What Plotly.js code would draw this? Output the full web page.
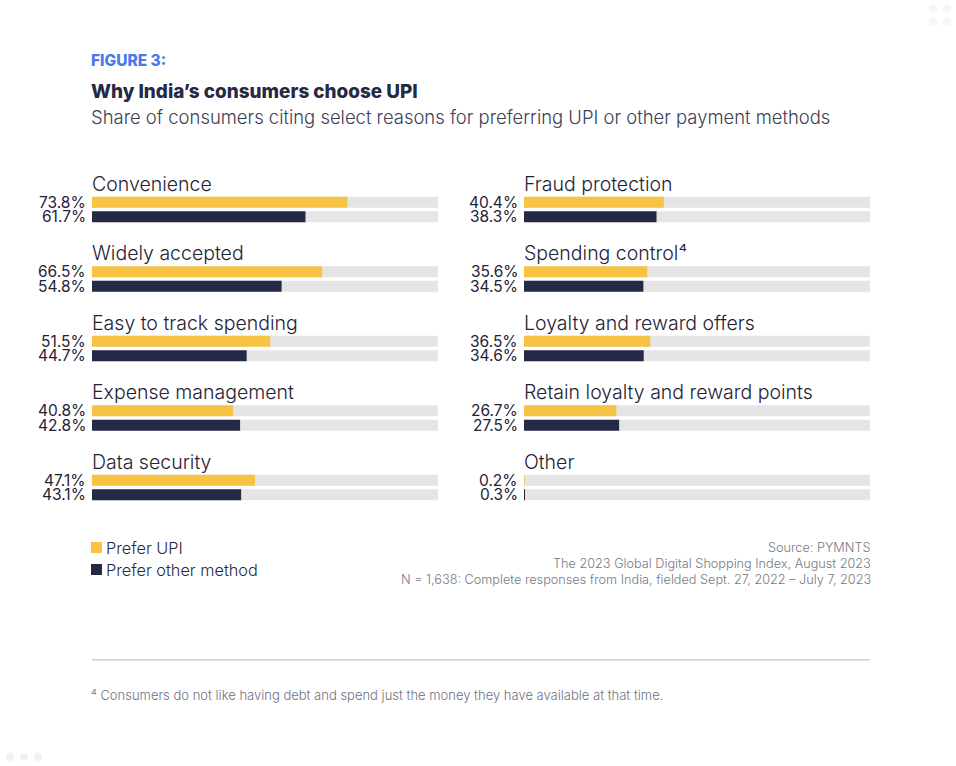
<!DOCTYPE html>
<html><head><meta charset="utf-8">
<script src="https://cdn.plot.ly/plotly-3.0.1.min.js"></script>
<style>html,body{margin:0;padding:0;background:#fff}#c{width:956px;height:766px}</style>
</head><body><div id="c"></div>
<script>
const leftCategories = ["Convenience","Widely accepted","Easy to track spending","Expense management","Data security"];
const leftUPI = [73.8,66.5,51.5,40.8,47.1];
const leftOther = [61.7,54.8,44.7,42.8,43.1];
const rightCategories = ["Fraud protection","Spending control⁴","Loyalty and reward offers","Retain loyalty and reward points","Other"];
const rightUPI = [40.4,35.6,36.5,26.7,0.2];
const rightOther = [38.3,34.5,34.6,27.5,0.3];
const seriesNames = ["Prefer UPI","Prefer other method"];
const sourceLines = ["Source: PYMNTS","The 2023 Global Digital Shopping Index, August 2023","N = 1,638: Complete responses from India, fielded Sept. 27, 2022 – July 7, 2023"];

const W=956,H=766,FF='Inter, "Open Sans", sans-serif';
const NAVY='#242a45',YEL='#f6c344',GREY='#e5e5e6';
const px=x=>x/W, py=y=>1-y/H;
const full=a=>a.map(()=>100);
const bar=(x,y,color,name,xa,ya)=>({type:'bar',orientation:'h',x,y,name,xaxis:xa,yaxis:ya,
  marker:{color,line:{width:0}},showlegend:false,hoverinfo:'skip',cliponaxis:true});
const traces=[
  bar(full(leftCategories),leftCategories,GREY,'track','x','y'),
  bar(full(leftCategories),leftCategories,GREY,'track','x','y'),
  bar(full(rightCategories),rightCategories,GREY,'track','x2','y2'),
  bar(full(rightCategories),rightCategories,GREY,'track','x2','y2'),
  bar(leftUPI,leftCategories,YEL,seriesNames[0],'x3','y3'),
  bar(leftOther,leftCategories,NAVY,seriesNames[1],'x3','y3'),
  bar(rightUPI,rightCategories,YEL,seriesNames[0],'x4','y4'),
  bar(rightOther,rightCategories,NAVY,seriesNames[1],'x4','y4')
];
const base={range:[0,100],visible:false,fixedrange:true};
const yb=cats=>({type:'category',categoryorder:'array',categoryarray:cats,autorange:false,range:[4.5,-0.5],visible:false,fixedrange:true,domain:[py(522.25),py(174.75)]});
const ann=[];
function txt(x,y,text,size,color,anchor,weight){
  ann.push({xref:'paper',yref:'paper',x:px(x),y:py(y),text,showarrow:false,xanchor:anchor||'left',yanchor:'middle',
    font:{family:FF,size,color,weight:weight||400},align:anchor||'left',borderpad:0,borderwidth:0});
}
function group(cats,a,b,xa,ya){
  cats.forEach((c,i)=>{
    ann.push({xref:xa,yref:ya,x:0,y:c,text:c,showarrow:false,xanchor:'left',yanchor:'middle',yshift:26,xshift:-2,
      font:{family:FF,size:19.5,color:'#1f2336',weight:300}});
    [[a,7.2],[b,-7.4]].forEach(([v,s])=>ann.push({xref:xa,yref:ya,x:0,y:c,text:v[i].toFixed(1)+'%',showarrow:false,
      xanchor:'right',yanchor:'middle',yshift:s,xshift:-4,font:{family:FF,size:15.5,color:'#1f2336',weight:400}}));
  });
}
group(leftCategories,leftUPI,leftOther,'x','y');
group(rightCategories,rightUPI,rightOther,'x2','y2');
txt(91,60.5,'FIGURE 3:',15.5,'#4a78ef','left',800);
txt(91,91.5,'Why India’s consumers choose UPI',18.9,NAVY,'left',800);
txt(91,117.5,'Share of consumers citing select reasons for preferring UPI or other payment methods',18.45,'#3b4054','left',300);
txt(106,547.5,seriesNames[0],16.3,NAVY,'left',300);
txt(106,569.5,seriesNames[1],16.3,NAVY,'left',300);
sourceLines.forEach((t,i)=>txt(870.5,547+16*i,t,12.7,'#777a85','right',300));
txt(91,694.5,'⁴ Consumers do not like having debt and spend just the money they have available at that time.',13,'#6f7280','left',300);

const rect=(x0,y0,x1,y1,c)=>({type:'rect',xref:'paper',yref:'paper',x0:px(x0),x1:px(x1),y0:py(y1),y1:py(y0),fillcolor:c,line:{width:0},layer:'below'});
const dot=(cx,cy,r,c)=>({type:'circle',xref:'paper',yref:'paper',x0:px(cx-r),x1:px(cx+r),y0:py(cy+r),y1:py(cy-r),fillcolor:c,line:{width:0},layer:'below'});
const shapes=[
  rect(91,542,102,553,YEL),rect(91,564,102,575,NAVY),rect(92,659,870,660.5,'#cfcfd1'),
  dot(933,9,4.5,'#f7f7f7'),dot(947,9,4.5,'#f7f7f7'),dot(933,22,4.5,'#f7f7f7'),dot(947,22,4.5,'#f7f7f7'),
  dot(10,757,4,'#f1f1f1'),dot(24,757,4,'#f1f1f1'),dot(38,757,4,'#f1f1f1')
];
const layout={width:W,height:H,margin:{l:0,r:0,t:0,b:0},paper_bgcolor:'#fff',plot_bgcolor:'rgba(0,0,0,0)',
  showlegend:false,barmode:'group',bargap:0.583,bargroupgap:0.24,
  xaxis:{...base,domain:[px(92),px(438)]},
  xaxis2:{...base,domain:[px(524),px(870)]},
  xaxis3:{...base,overlaying:'x'},
  xaxis4:{...base,overlaying:'x2'},
  yaxis:{...yb(leftCategories),anchor:'x'},
  yaxis2:{...yb(rightCategories),anchor:'x2'},
  yaxis3:{...yb(leftCategories),anchor:'x3',overlaying:'y'},
  yaxis4:{...yb(rightCategories),anchor:'x4',overlaying:'y2'},
  annotations:ann,shapes};
Plotly.newPlot('c',traces,layout,{displayModeBar:false,responsive:false,staticPlot:true});
</script></body></html>
